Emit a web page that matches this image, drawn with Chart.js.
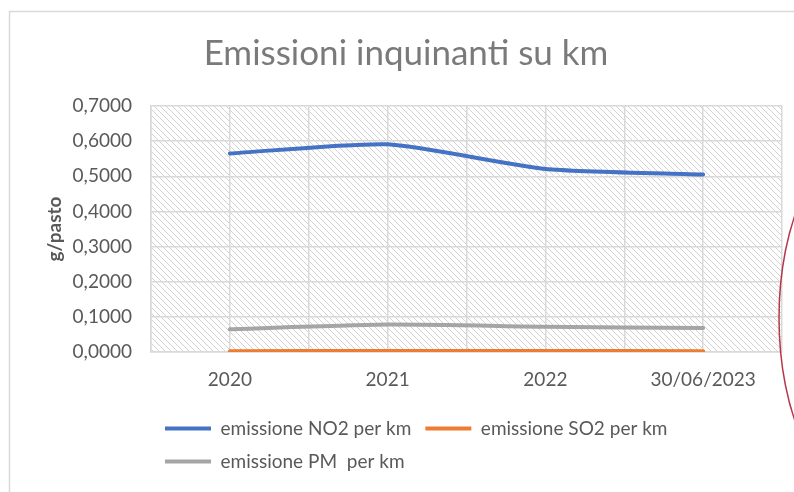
<!DOCTYPE html>
<html>
<head>
<meta charset="utf-8">
<script src="https://cdn.jsdelivr.net/npm/chart.js@4/dist/chart.umd.min.js"></script>
<style>
    html, body { margin: 0; padding: 0; background: #ffffff; }
    #wrap { width: 794px; height: 492px; }
</style>
</head>
<body>
<div id="wrap"><canvas id="grafico" width="794" height="492"></canvas></div>
<script>
// Dati
const anni = ["2020", "2021", "2022", "30/06/2023"];
const emissioneNO2 = [0.565, 0.591, 0.521, 0.505];
const emissioneSO2 = [0.002, 0.003, 0.003, 0.002];
const emissionePM = [0.065, 0.078, 0.072, 0.068];
const etichetteY = ["0,0000", "0,1000", "0,2000", "0,3000", "0,4000", "0,5000", "0,6000", "0,7000"];

const FONT = "Lato, 'Open Sans', sans-serif";
const GRIGIO_TESTO = "#595959";
const GRIGIO_GRIGLIA = "#d9d9d9";

// punti {x, y} sull'asse lineare (una categoria per intero)
function punti(valori) {
    return valori.map((v, i) => ({ x: i, y: v }));
}

// Tratteggio diagonale dell'area del grafico
function creaTratteggio(ctx) {
    const c = document.createElement("canvas");
    c.width = 6;
    c.height = 6;
    const p = c.getContext("2d");
    p.strokeStyle = "#d2d2d2";
    p.lineWidth = 1;
    p.beginPath();
    p.moveTo(-1, -1); p.lineTo(7, 7);
    p.moveTo(-1, 5); p.lineTo(1, 7);
    p.moveTo(5, -1); p.lineTo(7, 1);
    p.stroke();
    return ctx.createPattern(c, "repeat");
}

const sfondoTratteggiato = {
    id: "sfondoTratteggiato",
    beforeDraw(chart) {
        const { ctx, chartArea } = chart;
        ctx.save();
        ctx.fillStyle = creaTratteggio(ctx);
        ctx.fillRect(chartArea.left, chartArea.top, chartArea.right - chartArea.left, chartArea.bottom - chartArea.top);
        ctx.restore();
    }
};

// Cornice esterna e cerchio rosso a destra
const cornice = {
    id: "cornice",
    afterDraw(chart) {
        const ctx = chart.ctx;
        ctx.save();
        ctx.strokeStyle = GRIGIO_GRIGLIA;
        ctx.lineWidth = 1.5;
        ctx.strokeRect(9.5, 11.5, 820, 520);
        ctx.strokeStyle = "#b5384a";
        ctx.lineWidth = 1.5;
        ctx.beginPath();
        ctx.ellipse(870, 318, 91, 182, 0, 0, Math.PI * 2);
        ctx.stroke();
        ctx.restore();
    }
};

function serie(label, dati, colore) {
    return {
        label: label,
        data: punti(dati),
        borderColor: colore,
        backgroundColor: colore,
        borderWidth: 4,
        borderCapStyle: "round",
        pointRadius: 0,
        pointHoverRadius: 0,
        tension: 0.2,
        fill: false
    };
}

new Chart(document.getElementById("grafico"), {
    type: "line",
    data: {
        datasets: [
            serie("emissione NO2 per km", emissioneNO2, "#4472c4"),
            serie("emissione SO2 per km", emissioneSO2, "#ed7d31"),
            serie("emissione PM  per km", emissionePM, "#a5a5a5")
        ]
    },
    options: {
        responsive: false,
        animation: false,
        layout: { padding: { left: 30, right: 12, top: 0, bottom: 11 } },
        plugins: {
            title: {
                display: true,
                text: "Emissioni inquinanti su km",
                color: "#7a7a7a",
                font: { family: FONT, size: 35, weight: "normal" },
                padding: { top: 33, bottom: 31 }
            },
            legend: {
                position: "bottom",
                align: "start",
                fullSize: false,
                labels: {
                    usePointStyle: true,
                    pointStyle: "line",
                    pointStyleWidth: 46,
                    padding: 14,
                    color: GRIGIO_TESTO,
                    font: { family: FONT, size: 19 }
                }
            },
            tooltip: { enabled: false }
        },
        scales: {
            x: {
                type: "linear",
                min: -0.5,
                max: 3.5,
                afterFit: scale => {
                    scale.height = 53;
                    scale.paddingLeft = 0;
                    scale.paddingRight = 0;
                },
                afterBuildTicks: scale => {
                    scale.ticks = [-0.5, 0, 0.5, 1, 1.5, 2, 2.5, 3, 3.5].map(v => ({ value: v }));
                },
                ticks: {
                    autoSkip: false,
                    maxRotation: 0,
                    padding: 16,
                    color: GRIGIO_TESTO,
                    font: { family: FONT, size: 19 },
                    callback: value => Number.isInteger(value) ? anni[value] : ""
                },
                grid: { color: GRIGIO_GRIGLIA, lineWidth: 1.5, drawTicks: false },
                border: { color: GRIGIO_GRIGLIA, width: 1.5 }
            },
            y: {
                min: 0,
                max: 0.7,
                afterFit: scale => { scale.width = 121; },
                ticks: {
                    stepSize: 0.1,
                    padding: 19,
                    color: GRIGIO_TESTO,
                    font: { family: FONT, size: 19 },
                    callback: (value, index) => etichetteY[index]
                },
                title: {
                    display: true,
                    text: "g/pasto",
                    color: GRIGIO_TESTO,
                    font: { family: FONT, size: 19, weight: "bold" },
                    padding: { top: 13, bottom: 0 }
                },
                grid: { color: GRIGIO_GRIGLIA, lineWidth: 1.5, drawTicks: false },
                border: { color: GRIGIO_GRIGLIA, width: 1.5 }
            }
        }
    },
    plugins: [sfondoTratteggiato, cornice]
});
</script>
</body>
</html>
